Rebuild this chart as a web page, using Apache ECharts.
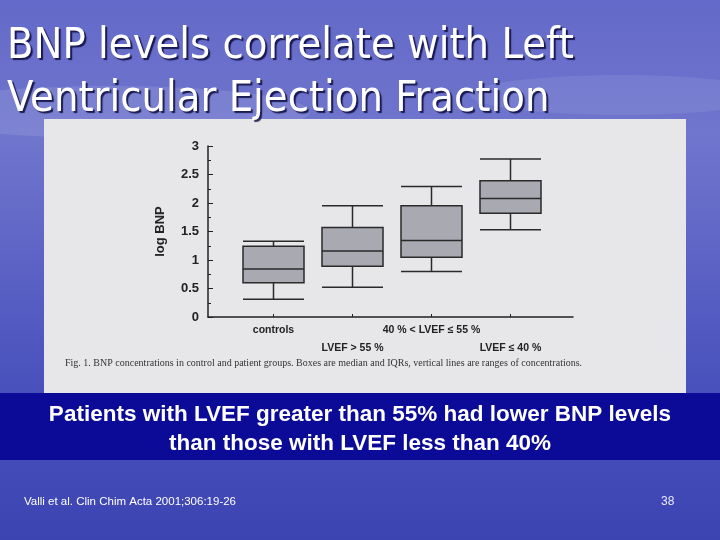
<!DOCTYPE html>
<html>
<head>
<meta charset="utf-8">
<script src="https://cdn.jsdelivr.net/npm/echarts@6/dist/echarts.min.js"></script>
<style>
  html, body { margin: 0; padding: 0; }
  #chart { width: 720px; height: 540px; }
</style>
</head>
<body>
<div id="chart"></div>
<script>
// groups on the x axis
const groups = ['controls', 'LVEF > 55 %', '40 % < LVEF \u2264 55 %', 'LVEF \u2264 40 %']
// log BNP: [min, Q1, median, Q3, max]
const boxes = [
  [0.31, 0.60, 0.84, 1.24, 1.33],
  [0.52, 0.89, 1.16, 1.57, 1.95],
  [0.80, 1.05, 1.34, 1.95, 2.29],
  [1.53, 1.82, 2.08, 2.39, 2.77]
]
const yTicks = [0, 0.5, 1, 1.5, 2, 2.5, 3]

const titleLines = ['BNP levels correlate with Left', 'Ventricular Ejection Fraction']
const bandLines = ['Patients with LVEF greater than 55% had lower BNP levels', 'than those with LVEF less than 40%']
const caption = 'Fig. 1. BNP concentrations in control and patient groups. Boxes are median and IQRs, vertical lines are ranges of concentrations.'
const citation = 'Valli et al. Clin Chim Acta 2001;306:19-26'
const slideNo = '38'

const chart = echarts.init(document.getElementById('chart'))

// plot area shared by both grids (y: 0 -> 3)
const plotTop = 146
const plotBottom = 223

const axisColor = '#222'

chart.setOption({
  backgroundColor: {
    type: 'linear', x: 0, y: 0, x2: 0, y2: 1,
    colorStops: [
      { offset: 0, color: '#6369c8' },
      { offset: 0.25, color: '#7076cd' },
      { offset: 0.7, color: '#4a52bd' },
      { offset: 1, color: '#3c44b2' }
    ]
  },
  animation: false,
  graphic: [
    // clouds
    { type: 'ellipse', shape: { cx: 110, cy: 112, rx: 200, ry: 26 }, style: { fill: 'rgba(255,255,255,0.10)' }, z: -20 },
    { type: 'ellipse', shape: { cx: 620, cy: 95, rx: 150, ry: 20 }, style: { fill: 'rgba(255,255,255,0.08)' }, z: -20 },
    // figure panel
    { type: 'rect', shape: { x: 44, y: 119, width: 642, height: 274 }, style: { fill: '#e7e7ea' }, z: -10 },
    // dark band
    { type: 'rect', shape: { x: 0, y: 393, width: 720, height: 67 }, style: { fill: '#0b0b97' }, z: -10 },
    // slide title
    {
      type: 'text', left: 7, top: 20,
      style: {
        text: titleLines.join('\n'), fill: '#fff', lineHeight: 53,
        font: '43px "DejaVu Sans Condensed", "DejaVu Sans", sans-serif',
        textShadowColor: 'rgba(10,10,60,0.85)', textShadowOffsetX: 2, textShadowOffsetY: 2, textShadowBlur: 1
      }
    },
    // figure caption
    {
      type: 'text', left: 65, top: 358,
      style: { text: caption, fill: '#333', font: '10px "Liberation Serif", serif' }
    },
    // band text
    {
      type: 'text', x: 360, y: 400,
      style: {
        text: bandLines.join('\n'), fill: '#fff', align: 'center', verticalAlign: 'top', lineHeight: 29,
        font: 'bold 22.5px "Liberation Sans", Arial, sans-serif'
      }
    },
    {
      type: 'text', left: 24, top: 496,
      style: { text: citation, fill: '#fff', font: '11.5px "Liberation Sans Narrow", "Liberation Sans", sans-serif' }
    },
    {
      type: 'text', left: 661, top: 496,
      style: { text: slideNo, fill: '#e8e8ff', font: '12px "Liberation Sans", sans-serif' }
    }
  ],
  grid: [
    // boxplot grid: category bands centred on the boxes
    { left: 234, width: 316, top: plotTop, bottom: plotBottom },
    // frame grid: L-shaped axes of the figure
    { left: 208, width: 365, top: plotTop, bottom: plotBottom }
  ],
  xAxis: [
    {
      type: 'category', gridIndex: 0, data: groups,
      axisLine: { show: false },
      axisTick: { show: true, inside: true, length: 3, alignWithLabel: true, lineStyle: { color: axisColor } },
      axisLabel: {
        interval: 0, margin: 4, color: '#222', lineHeight: 18,
        fontFamily: '"Liberation Sans", Arial, sans-serif', fontWeight: 'bold', fontSize: 10.5,
        formatter: (v, i) => (i % 2 ? '\n' + v : v)
      }
    },
    {
      type: 'value', gridIndex: 1, min: 0, max: 1,
      axisLine: { show: true, lineStyle: { color: axisColor, width: 1.5 } },
      axisTick: { show: false }, axisLabel: { show: false }, splitLine: { show: false }
    }
  ],
  yAxis: [
    {
      type: 'value', gridIndex: 0, min: 0, max: 3,
      show: false, splitLine: { show: false }
    },
    {
      type: 'value', gridIndex: 1, min: 0, max: 3, interval: 0.5,
      name: 'log BNP', nameLocation: 'middle', nameGap: 41, nameRotate: 90,
      nameTextStyle: { color: '#222', fontWeight: 'bold', fontSize: 13, fontFamily: '"Liberation Sans", Arial, sans-serif' },
      axisLine: { show: true, lineStyle: { color: axisColor, width: 1.5 } },
      axisTick: { show: true, inside: true, length: 5, lineStyle: { color: axisColor } },
      minorTick: { show: true, splitNumber: 2, length: 3, lineStyle: { color: axisColor } },
      axisLabel: {
        margin: 9, color: '#222', fontWeight: 'bold', fontSize: 13,
        fontFamily: '"Liberation Sans", Arial, sans-serif',
        formatter: v => (yTicks.includes(v) ? String(v) : '')
      },
      splitLine: { show: false }
    }
  ],
  series: [
    {
      type: 'boxplot', xAxisIndex: 0, yAxisIndex: 0,
      data: boxes,
      boxWidth: [61, 61],
      itemStyle: { color: '#a9a9b2', borderColor: '#2a2a2a', borderWidth: 1.5 }
    }
  ]
})
</script>
</body>
</html>
